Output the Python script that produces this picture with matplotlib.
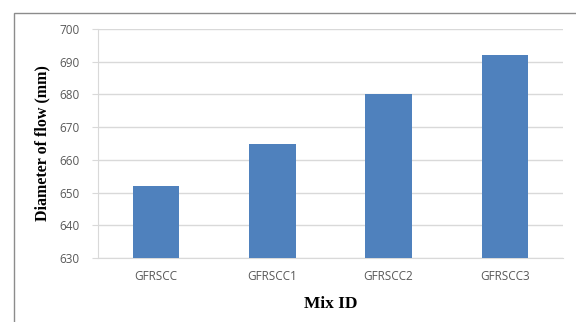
import matplotlib
matplotlib.use("Agg")
import matplotlib.pyplot as plt
from matplotlib.patches import Rectangle

mixes = ["GFRSCC", "GFRSCC1", "GFRSCC2", "GFRSCC3"]
flow = [652, 665, 680, 692]
yticks = [630, 640, 650, 660, 670, 680, 690, 700]

fig = plt.figure(figsize=(5.76, 3.22), dpi=100)
# outer chart border, running off the right and bottom edges
fig.patches.append(Rectangle((14 / 576, -0.1), 1.2, 1.1 - 13 / 322,
                             transform=fig.transFigure, fill=False,
                             edgecolor="#8c8c8c", linewidth=1.0))

ax = fig.add_axes([98 / 576, 64 / 322, 465 / 576, 229 / 322])
x = range(len(mixes))
ax.bar(x, flow, width=0.40, color="#4f81bd", zorder=3)

ax.set_ylim(630, 700)
ax.set_xlim(-0.5, 3.5)
ax.set_yticks(yticks)
ax.set_xticks(list(x))
ax.set_xticklabels(mixes)
ax.yaxis.grid(True, color="#d9d9d9", linewidth=1.0, zorder=0)
ax.tick_params(axis="y", length=4, color="#d9d9d9", labelsize=8.5,
               labelcolor="#595959", pad=9)
ax.tick_params(axis="x", length=0, labelsize=8.5, labelcolor="#595959", pad=9)
for lab in ax.get_xticklabels() + ax.get_yticklabels():
    lab.set_family("Open Sans")

for side in ("top", "right"):
    ax.spines[side].set_visible(False)
ax.spines["bottom"].set_color("#d9d9d9")
ax.spines["left"].set_color("#d9d9d9")

ax.set_xlabel("Mix ID", family="Liberation Serif", fontweight="bold",
              fontsize=12.5, labelpad=9)
ax.set_ylabel("Diameter of flow (mm)", family="Liberation Serif",
              fontweight="bold", fontsize=11.5, labelpad=7)

fig.savefig("out.png", dpi=100)
